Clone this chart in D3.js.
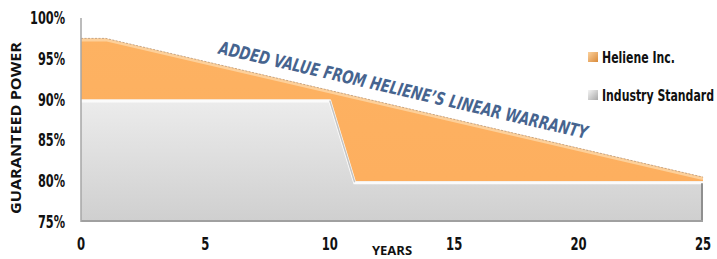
<!DOCTYPE html>
<html><head><meta charset="utf-8">
<script src="https://cdn.jsdelivr.net/npm/d3@7"></script>
<style>
body{margin:0;background:#fff;}
svg{display:block;}
</style></head>
<body>
<svg id="c" width="717" height="259"></svg>
<script>
// ---- data ----
const heleneYears = [0, 1, 25];
const heleneValues = [97.5, 97.5, 80.5];
const industryYears = [0, 10, 11, 25];
const industryValues = [90, 90, 80, 80];
const xTicks = [0, 5, 10, 15, 20, 25];
const yTicks = [75, 80, 85, 90, 95, 100];
const seriesNames = ["Heliene Inc.", "Industry Standard"];
const annotation = "ADDED VALUE FROM HELIENE\u2019S LINEAR WARRANTY";

const helene = heleneYears.map((y, i) => ({x: y, v: heleneValues[i]}));
const industry = industryYears.map((y, i) => ({x: y, v: industryValues[i]}));

const svg = d3.select("#c");
const x = d3.scaleLinear().domain([0, 25]).range([81, 703]);
const y = d3.scaleLinear().domain([75, 100]).range([222, 18]);

const defs = svg.append("defs");
const gg = defs.append("linearGradient").attr("id", "gGray").attr("x1", 0).attr("y1", 0).attr("x2", 0).attr("y2", 1);
gg.append("stop").attr("offset", "0%").attr("stop-color", "#ececec");
gg.append("stop").attr("offset", "100%").attr("stop-color", "#cfcfcf");
const og = defs.append("linearGradient").attr("id", "gOr").attr("x1", 0).attr("y1", 0).attr("x2", 0).attr("y2", 1);
og.append("stop").attr("offset", "0%").attr("stop-color", "#fdb262");
og.append("stop").attr("offset", "100%").attr("stop-color", "#fdae5e");
const lg1 = defs.append("linearGradient").attr("id", "lOr").attr("x1", 0).attr("y1", 0).attr("x2", 1).attr("y2", 1);
lg1.append("stop").attr("offset", "0%").attr("stop-color", "#fcd29e");
lg1.append("stop").attr("offset", "100%").attr("stop-color", "#d98a3a");
const lg2 = defs.append("linearGradient").attr("id", "lGr").attr("x1", 0).attr("y1", 0).attr("x2", 1).attr("y2", 1);
lg2.append("stop").attr("offset", "0%").attr("stop-color", "#f4f4f4");
lg2.append("stop").attr("offset", "100%").attr("stop-color", "#a8a8a8");

const area = d3.area().x(d => x(d.x)).y0(y(75)).y1(d => y(d.v));
const line = d3.line().x(d => x(d.x)).y(d => y(d.v));

// orange area
svg.append("path").datum(helene).attr("d", area).attr("fill", "url(#gOr)");
svg.append("path").datum(helene)
  .attr("d", line).attr("fill", "none").attr("stroke", "#fdd09a").attr("stroke-width", 3)
  .attr("transform", "translate(0,1.5)");
svg.append("path").datum(helene).attr("d", line).attr("fill", "none")
  .attr("stroke", "#b89a80").attr("stroke-width", 0.8).attr("stroke-dasharray", "2,1.5");

// gray area
svg.append("path").datum(industry).attr("d", area).attr("fill", "url(#gGray)");
svg.append("path").datum(industry).attr("d", line).attr("fill", "none")
  .attr("stroke", "#fbfbfb").attr("stroke-width", 3).attr("transform", "translate(0,1.5)");
svg.append("line").attr("x1", x(25) - 1).attr("x2", x(25) - 1).attr("y1", y(80) + 2).attr("y2", y(75))
  .attr("stroke", "#8f8f8f").attr("stroke-width", 2);
svg.append("line").attr("x1", x(0)).attr("x2", x(25)).attr("y1", y(75) - 1).attr("y2", y(75) - 1)
  .attr("stroke", "#a0a0a0").attr("stroke-width", 2);
svg.append("line").attr("x1", x(10)).attr("y1", y(90) + 1).attr("x2", x(11)).attr("y2", y(80) + 1)
  .attr("stroke", "#c4c4c4").attr("stroke-width", 1.5);

// left axis line
svg.append("line").attr("x1", x(0)).attr("x2", x(0)).attr("y1", y(100)).attr("y2", y(75))
  .attr("stroke", "#a6a6a6").attr("stroke-width", 1.5);

const condensed = "'Liberation Sans Narrow','DejaVu Sans Condensed','Roboto Condensed',sans-serif";
function narrow(sel, f) {
  sel.each(function () {
    const w = this.getComputedTextLength();
    d3.select(this).attr("textLength", w * f).attr("lengthAdjust", "spacingAndGlyphs");
  });
}

// y ticks
svg.append("g").selectAll("text").data(yTicks).join("text")
  .attr("x", 65).attr("y", d => y(d) + 6)
  .attr("text-anchor", "end").attr("font-family", condensed).attr("font-weight", "bold")
  .attr("font-size", 17).attr("fill", "#111").text(d => d + "%")
  .call(narrow, 0.74);

// x ticks
svg.append("g").selectAll("text").data(xTicks).join("text")
  .attr("x", d => x(d)).attr("y", 250)
  .attr("text-anchor", "middle").attr("font-family", condensed).attr("font-weight", "bold")
  .attr("font-size", 17).attr("fill", "#111").text(d => d)
  .call(narrow, 0.76);

// axis titles
svg.append("text").attr("x", 392).attr("y", 255).attr("text-anchor", "middle")
  .attr("font-family", "'Open Sans',sans-serif").attr("font-weight", "bold").attr("font-size", 13)
  .attr("fill", "#111").text("YEARS");
svg.append("text").attr("transform", "translate(21,128) rotate(-90)").attr("text-anchor", "middle")
  .attr("font-family", "'Open Sans',sans-serif").attr("font-weight", "bold").attr("font-size", 14)
  .attr("fill", "#111").attr("textLength", 172).attr("lengthAdjust", "spacingAndGlyphs")
  .text("GUARANTEED POWER");

// annotation along slope
const p1 = [x(heleneYears[1]), y(heleneValues[1])];
const p2 = [x(heleneYears[2]), y(heleneValues[2])];
const ang = Math.atan2(p2[1] - p1[1], p2[0] - p1[0]) * 180 / Math.PI;
const tx = x(5.5), ty = y(heleneValues[1] + (heleneValues[2] - heleneValues[1]) * (5.5 - 1) / 24);
svg.append("text")
  .attr("transform", `translate(${tx},${ty - 11}) rotate(${ang})`)
  .attr("font-family", condensed).attr("font-weight", "bold").attr("font-style", "italic")
  .attr("font-size", 18).attr("fill", "#46648f")
  .attr("textLength", 378).attr("lengthAdjust", "spacingAndGlyphs")
  .text(annotation);

// legend
const lg = svg.append("g");
const legY = [52, 90];
const legFill = ["url(#lOr)", "url(#lGr)"];
lg.selectAll("rect").data(seriesNames).join("rect")
  .attr("x", 588).attr("y", (d, i) => legY[i]).attr("width", 10).attr("height", 10)
  .attr("fill", (d, i) => legFill[i]);
lg.selectAll("text").data(seriesNames).join("text")
  .attr("transform", (d, i) => `translate(602,${legY[i] + 11}) scale(0.81,1)`)
  .attr("font-family", condensed).attr("font-weight", "bold").attr("font-size", 15)
  .attr("fill", "#111")
  .text(d => d);
</script>
</body></html>
